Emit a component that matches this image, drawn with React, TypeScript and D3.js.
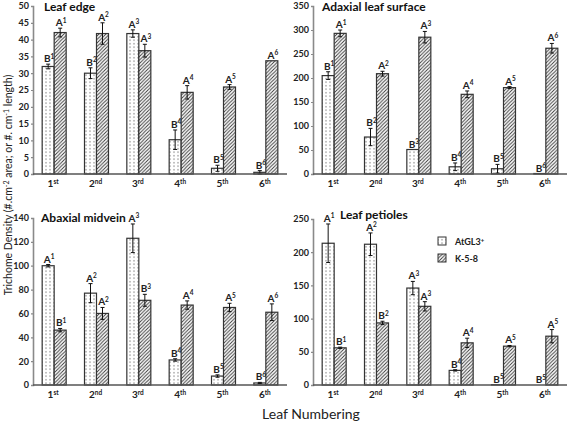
import React, { useEffect, useRef } from "react";
import * as d3 from "d3";

const categories = ["1st", "2nd", "3rd", "4th", "5th", "6th"];
const series = ["AtGL3+", "K-5-8"];

// Leaf edge
const edgeAt = [32, 30, 41.8, 10.2, 1.7, 0.5];
const edgeAtErr = [0.7, 1.6, 1.1, 2.9, 0.9, 0.5];
const edgeK = [42.1, 41.8, 36.7, 24.3, 25.9, 33.7];
const edgeKErr = [1.3, 3.2, 1.9, 2.0, 0.7, 0];
const edgeAtLab = ["B1", "B2", "A3", "B4", "B5", "B6"];
const edgeKLab = ["A1", "A2", "A3", "A4", "A5", "A6"];

// Adaxial leaf surface
const adaxAt = [205, 77, 51, 15, 11, 1];
const adaxAtErr = [8, 18, 0, 8, 9, 0];
const adaxK = [293, 209, 285, 166, 180, 262];
const adaxKErr = [7, 5, 12, 7, 2, 10];
const adaxAtLab = ["B1", "B2", "B3", "B4", "B5", "B6"];
const adaxKLab = ["A1", "A2", "A3", "A4", "A5", "A6"];

// Abaxial midvein
const midAt = [100, 77, 123, 21, 7.5, 1.7];
const midAtErr = [1, 8, 12, 1, 1, 0.5];
const midK = [46, 60, 71, 67, 65, 61];
const midKErr = [1.4, 5, 5, 3.5, 3.5, 7];
const midAtLab = ["A1", "A2", "A3", "B4", "B5", "B6"];
const midKLab = ["B1", "A2", "B3", "A4", "A5", "A6"];

// Leaf petioles
const petAt = [213.5, 212, 146, 22, 0.5, 0];
const petAtErr = [29, 17, 10, 1, 0, 0];
const petK = [56, 93.5, 118.5, 63.5, 58.5, 73.5];
const petKErr = [1, 2.5, 7, 7, 1, 10];
const petAtLab = ["A1", "A2", "A3", "B4", "B5", "B5"];
const petKLab = ["B1", "B2", "A3", "A4", "A5", "A5"];

const FONT = "Lato, 'Open Sans', sans-serif";

const panels = [
  { title: "Leaf edge", max: 50, step: 5, x0: 33, x1: 287, y0: 174, y1: 6, tx: 44, ty: 11,
    at: edgeAt, atErr: edgeAtErr, k: edgeK, kErr: edgeKErr, atLab: edgeAtLab, kLab: edgeKLab },
  { title: "Adaxial leaf surface", max: 350, step: 50, x0: 313, x1: 567, y0: 174, y1: 6, tx: 322, ty: 11,
    at: adaxAt, atErr: adaxAtErr, k: adaxK, kErr: adaxKErr, atLab: adaxAtLab, kLab: adaxKLab },
  { title: "Abaxial midvein", max: 140, step: 20, x0: 33, x1: 287, y0: 385, y1: 218, tx: 41, ty: 222,
    at: midAt, atErr: midAtErr, k: midK, kErr: midKErr, atLab: midAtLab, kLab: midKLab },
  { title: "Leaf petioles", max: 250, step: 50, x0: 313, x1: 567, y0: 385, y1: 219, tx: 340, ty: 219,
    at: petAt, atErr: petAtErr, k: petK, kErr: petKErr, atLab: petAtLab, kLab: petKLab },
];

export default function App() {
  const ref = useRef<SVGSVGElement>(null);
  useEffect(() => {
    const svg = d3.select(ref.current);
    svg.selectAll("*").remove();
    const defs = svg.append("defs");
    const dots = defs.append("pattern").attr("id", "dots").attr("patternUnits", "userSpaceOnUse")
      .attr("width", 4).attr("height", 3.5);
    dots.append("rect").attr("width", 4).attr("height", 3.5).attr("fill", "#fff");
    dots.append("rect").attr("x", 1.5).attr("y", 1.2).attr("width", 1).attr("height", 1).attr("fill", "#333");
    const hatch = defs.append("pattern").attr("id", "hatch").attr("patternUnits", "userSpaceOnUse")
      .attr("width", 3.5).attr("height", 3.5);
    hatch.append("rect").attr("width", 3.5).attr("height", 3.5).attr("fill", "#fff");
    hatch.append("path").attr("d", "M-1,1 L1,-1 M0,3.5 L3.5,0 M2.5,4.5 L4.5,2.5")
      .attr("stroke", "#333").attr("stroke-width", 0.9);

    const fills = ["url(#dots)", "url(#hatch)"];

    panels.forEach((p) => {
      const g = svg.append("g");
      const x = d3.scaleBand<string>().domain(categories).range([p.x0, p.x1]).padding(0);
      const xs = d3.scaleBand<string>().domain(series).range([-12, 12]).padding(0);
      const y = d3.scaleLinear().domain([0, p.max]).range([p.y0, p.y1]);

      // y axis
      const ticks = d3.range(0, p.max + 0.001, p.step);
      const ya = g.append("g").attr("transform", `translate(${p.x0},0)`)
        .call(d3.axisLeft(y).tickValues(ticks).tickSize(2).tickPadding(2).tickFormat(d3.format("d")));
      ya.select(".domain").attr("stroke", "#8a8a8a").attr("stroke-width", 1.6);
      ya.selectAll(".tick line").attr("stroke", "#8a8a8a").attr("stroke-width", 1.2);
      ya.selectAll(".tick text").attr("font-family", FONT).attr("font-weight", "bold")
        .attr("font-size", 9).attr("fill", "#222");

      // bars
      const data = categories.flatMap((c, i) => [
        { c, s: series[0], v: p.at[i], e: p.atErr[i], l: p.atLab[i], si: 0 },
        { c, s: series[1], v: p.k[i], e: p.kErr[i], l: p.kLab[i], si: 1 },
      ]);
      const cx = (d: any) => (x(d.c) as number) + x.bandwidth() / 2 + (xs(d.s) as number);
      g.selectAll("rect.bar").data(data).enter().append("rect")
        .attr("x", (d) => cx(d))
        .attr("y", (d) => y(d.v))
        .attr("width", xs.bandwidth())
        .attr("height", (d) => y(0) - y(d.v))
        .attr("fill", (d) => fills[d.si])
        .attr("stroke", "#333").attr("stroke-width", 1.2);

      // error bars
      const eb = data.filter((d) => d.e > 0);
      const mid = (d: any) => cx(d) + xs.bandwidth() / 2;
      g.selectAll("path.err").data(eb).enter().append("path")
        .attr("d", (d) => {
          const m = mid(d), t = y(d.v + d.e), b = y(Math.max(0, d.v - d.e));
          return `M${m},${t}V${b}M${m - 2},${t}H${m + 2}M${m - 2},${b}H${m + 2}`;
        })
        .attr("stroke", "#111").attr("stroke-width", 1).attr("fill", "none");

      // letter labels
      const lt = g.selectAll("text.lab").data(data).enter().append("text")
        .attr("x", (d) => mid(d) + 1)
        .attr("y", (d) => y(d.v + d.e) - 2)
        .attr("text-anchor", "middle")
        .attr("font-family", FONT).attr("font-weight", "bold").attr("font-size", 10).attr("fill", "#222");
      lt.append("tspan").text((d) => d.l[0]);
      lt.append("tspan").attr("font-size", 6.5).attr("dy", -3.5).text((d) => d.l.slice(1));

      // x axis line
      g.append("line").attr("x1", p.x0).attr("x2", p.x1).attr("y1", y(0)).attr("y2", y(0))
        .attr("stroke", "#555").attr("stroke-width", 1.6);

      // x tick labels
      const xt = g.selectAll("text.xt").data(categories).enter().append("text")
        .attr("x", (c) => (x(c) as number) + x.bandwidth() / 2 - 1)
        .attr("y", y(0) + 13)
        .attr("text-anchor", "middle")
        .attr("font-family", FONT).attr("font-weight", "bold").attr("font-size", 10).attr("fill", "#222");
      xt.append("tspan").text((c) => c[0]);
      xt.append("tspan").attr("font-size", 6.5).attr("dy", -3.5).text((c) => c.slice(1));

      // title
      g.append("text").attr("x", p.tx).attr("y", p.ty).text(p.title)
        .attr("font-family", FONT).attr("font-weight", "bold").attr("font-size", 12).attr("fill", "#111");
    });

    // legend
    const lg = svg.append("g");
    series.forEach((s, i) => {
      const yy = 237 + i * 17;
      lg.append("rect").attr("x", 438).attr("y", yy).attr("width", 8).attr("height", 8)
        .attr("fill", fills[i]).attr("stroke", "#333").attr("stroke-width", 1);
      const t = lg.append("text").attr("x", 455).attr("y", yy + 7.5)
        .attr("font-family", FONT).attr("font-weight", "bold").attr("font-size", 9).attr("fill", "#222");
      if (i === 0) {
        t.append("tspan").text("AtGL3");
        t.append("tspan").attr("font-size", 6).attr("dy", -3).text("+");
      } else {
        t.text(s);
      }
    });

    // axis titles
    svg.append("text").attr("transform", "translate(12,185) rotate(-90)")
      .attr("text-anchor", "middle").attr("font-family", FONT).attr("font-size", 10.5).attr("fill", "#222")
      .call((t) => {
        t.append("tspan").text("Trichome Density (#.cm");
        t.append("tspan").attr("font-size", 7).attr("dy", -3.5).text("-2");
        t.append("tspan").attr("dy", 3.5).text(" area; or #. cm");
        t.append("tspan").attr("font-size", 7).attr("dy", -3.5).text("-1");
        t.append("tspan").attr("dy", 3.5).text(" length)");
      });
    svg.append("text").attr("x", 311).attr("y", 419).attr("text-anchor", "middle")
      .attr("font-family", FONT).attr("font-size", 14).attr("fill", "#222").text("Leaf Numbering");
  }, []);
  return (
    <svg ref={ref} width={567} height={422} style={{ position: "absolute", left: 0, top: 0, background: "#fff" }} />
  );
}
